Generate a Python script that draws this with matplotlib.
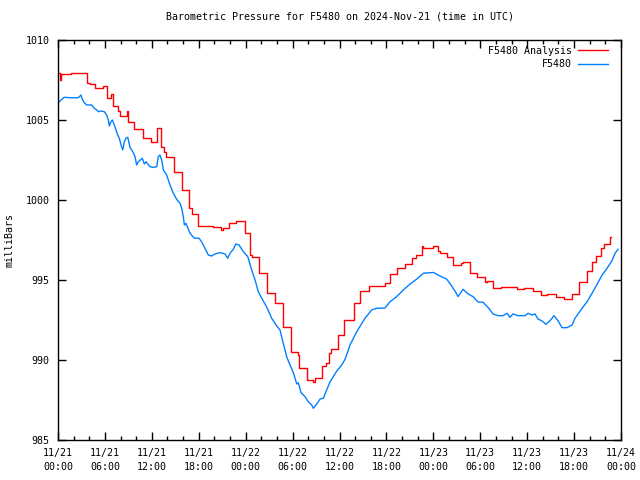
import matplotlib
matplotlib.use("Agg")
import matplotlib.pyplot as plt
from matplotlib.ticker import MultipleLocator
import numpy as np

# Hours since 2024-11-21 00:00 UTC, pressure in mb
analysis_hours = [0.0, 0.26, 0.38, 1.66, 3.70, 4.10, 4.73, 5.76, 6.27, 6.78, 7.03, 7.67, 7.93,
                  8.82, 8.95, 9.72, 10.87, 11.89, 12.66, 13.17, 13.56, 13.81, 14.84, 15.86,
                  16.75, 17.14, 17.90, 19.82, 20.85, 21.10, 21.87, 22.76, 23.92, 24.56, 24.81,
                  25.70, 26.73, 27.75, 28.78, 29.80, 30.69, 30.82, 31.85, 32.61, 32.87, 33.76,
                  34.28, 34.66, 34.91, 35.81, 36.58, 37.86, 38.62, 39.77, 41.82, 42.46, 43.36,
                  44.38, 45.27, 45.79, 46.55, 46.68, 47.96, 48.60, 48.85, 49.75, 50.52, 51.54,
                  51.80, 52.69, 53.59, 54.61, 54.87, 55.63, 56.66, 58.70, 59.60, 60.75, 61.77,
                  62.54, 63.69, 64.71, 65.74, 66.63, 67.66, 68.29, 68.81, 69.44, 69.83, 70.60,
                  70.72]
analysis_mb = [1007.92, 1007.50, 1007.88, 1007.92, 1007.33, 1007.25, 1007.02, 1007.13, 1006.39,
               1006.63, 1005.88, 1005.58, 1005.25, 1005.56, 1004.90, 1004.42, 1003.88, 1003.64,
               1004.48, 1003.31, 1003.02, 1002.71, 1001.73, 1000.63, 999.48, 999.13, 998.39,
               998.33, 998.13, 998.25, 998.56, 998.71, 997.94, 996.56, 996.46, 995.46, 994.17,
               993.54, 992.04, 990.48, 990.31, 989.48, 988.75, 988.61, 988.86, 989.63, 989.79,
               990.42, 990.67, 991.56, 992.50, 993.58, 994.31, 994.63, 994.83, 995.38, 995.73,
               996.00, 996.36, 996.56, 997.13, 996.98, 997.13, 996.83, 996.71, 996.42, 995.94,
               996.04, 996.11, 995.46, 995.17, 994.89, 994.94, 994.48, 994.54, 994.42, 994.48,
               994.33, 994.06, 994.13, 993.96, 993.79, 994.13, 994.86, 995.56, 996.14, 996.50,
               996.98, 997.23, 997.67, 997.67]

station_hours = [0.04, 0.38, 0.81, 1.53, 2.59, 2.94, 3.11, 3.36, 3.67, 4.31, 4.64, 4.95, 5.16,
                 5.50, 5.92, 6.23, 6.44, 6.56, 6.78, 6.95, 7.20, 7.42, 7.64, 7.84, 8.06, 8.28,
                 8.48, 8.70, 8.92, 9.21, 9.63, 9.85, 10.06, 10.27, 10.78, 11.04, 11.25, 11.77,
                 12.19, 12.62, 12.83, 13.04, 13.26, 13.47, 13.90, 14.32, 14.75, 15.18, 15.60,
                 15.82, 16.03, 16.16, 16.37, 16.88, 17.43, 18.03, 18.37, 18.80, 19.23, 19.66,
                 20.08, 20.72, 21.36, 21.70, 22.00, 22.42, 22.73, 23.15, 23.70, 24.27, 24.77,
                 25.20, 25.62, 26.05, 26.69, 27.33, 27.97, 28.39, 28.81, 29.24, 29.67, 30.09,
                 30.53, 30.73, 31.08, 31.59, 32.01, 32.45, 32.65, 33.08, 33.51, 33.93, 34.37,
                 34.79, 35.21, 35.65, 36.29, 36.71, 37.35, 38.20, 39.26, 40.12, 40.75, 41.82,
                 42.46, 43.31, 44.17, 45.03, 45.88, 46.73, 48.00, 48.85, 49.70, 50.26, 50.77,
                 51.16, 51.80, 52.44, 53.08, 53.71, 54.35, 54.99, 55.63, 56.27, 56.91, 57.42,
                 57.80, 58.19, 58.83, 59.73, 60.11, 60.62, 61.00, 61.39, 61.90, 62.41, 62.92,
                 63.43, 63.94, 64.45, 65.09, 65.74, 66.12, 67.02, 67.66, 68.30, 68.94, 69.58,
                 70.21, 70.85, 71.24, 71.62]
station_mb = [1006.08, 1006.25, 1006.42, 1006.39, 1006.39, 1006.56, 1006.29, 1006.08, 1005.94,
              1005.94, 1005.73, 1005.63, 1005.52, 1005.56, 1005.52, 1005.31, 1005.00, 1004.63,
              1004.90, 1005.00, 1004.69, 1004.38, 1004.06, 1003.86, 1003.44, 1003.13, 1003.64,
              1003.86, 1003.92, 1003.29, 1002.96, 1002.71, 1002.19, 1002.39, 1002.61, 1002.25,
              1002.39, 1002.08, 1002.04, 1002.08, 1002.71, 1002.81, 1002.50, 1001.88, 1001.56,
              1000.94, 1000.42, 1000.04, 999.79, 999.48, 998.96, 998.44, 998.54, 997.92, 997.61,
              997.61, 997.39, 996.98, 996.56, 996.50, 996.63, 996.71, 996.63, 996.36, 996.67,
              996.92, 997.25, 997.19, 996.77, 996.46, 995.63, 995.00, 994.27, 993.86, 993.31,
              992.61, 992.13, 991.88, 991.04, 990.21, 989.69, 989.22, 988.50, 988.58, 987.96,
              987.71, 987.39, 987.19, 986.98, 987.25, 987.56, 987.61, 988.13, 988.64, 988.96,
              989.31, 989.69, 990.04, 990.94, 991.77, 992.61, 993.13, 993.23, 993.25, 993.64,
              993.96, 994.38, 994.75, 995.06, 995.42, 995.47, 995.25, 995.06, 994.69, 994.31,
              993.96, 994.42, 994.13, 993.96, 993.63, 993.61, 993.29, 992.88, 992.77, 992.77,
              992.92, 992.67, 992.88, 992.77, 992.77, 992.92, 992.81, 992.88, 992.56, 992.44,
              992.23, 992.46, 992.77, 992.46, 992.02, 992.02, 992.19, 992.61, 993.23, 993.64,
              994.17, 994.73, 995.31, 995.73, 996.21, 996.67, 996.92]

x_tick_hours = [0, 6, 12, 18, 24, 30, 36, 42, 48, 54, 60, 66, 72]
x_tick_labels = ["11/21\n00:00", "11/21\n06:00", "11/21\n12:00", "11/21\n18:00",
                 "11/22\n00:00", "11/22\n06:00", "11/22\n12:00", "11/22\n18:00",
                 "11/23\n00:00", "11/23\n06:00", "11/23\n12:00", "11/23\n18:00",
                 "11/24\n00:00"]
y_ticks = [985, 990, 995, 1000, 1005, 1010]

plt.rcParams['font.family'] = ['DejaVu Sans Mono']
FS = 7.2

fig = plt.figure(figsize=(6.4, 4.8), dpi=100)
ax = fig.add_axes([58/640, 40/480, (621-58)/640, 400/480])

ax.plot(analysis_hours, analysis_mb, color='#ff0000', lw=1.0, drawstyle='steps-post',
        label='F5480 Analysis')
ax.plot(station_hours, station_mb, color='#0080ff', lw=1.0, label='F5480')

ax.set_xlim(0, 72)
ax.set_ylim(985, 1010)
ax.set_xticks(x_tick_hours)
ax.set_xticklabels(x_tick_labels, fontsize=FS, linespacing=1.5)
ax.xaxis.set_minor_locator(MultipleLocator(2))
ax.set_yticks(y_ticks)
ax.set_yticklabels([str(v) for v in y_ticks], fontsize=FS)

ax.tick_params(axis='both', which='major', direction='in', length=6, width=1,
               top=True, right=True, colors='black')
ax.tick_params(axis='x', which='major', pad=6)
ax.tick_params(axis='y', which='major', pad=6)
ax.tick_params(axis='x', which='minor', direction='in', length=3, width=1,
               top=True, bottom=True)
for s in ax.spines.values():
    s.set_linewidth(1.0)

ax.set_ylabel('milliBars', fontsize=FS)
ax.yaxis.set_label_coords(-43/563, 0.5)
ax.set_title('Barometric Pressure for F5480 on 2024-Nov-21 (time in UTC)', fontsize=FS, pad=15)

ax.legend(loc='upper right', frameon=False, markerfirst=False, fontsize=FS,
          handlelength=3.0, handletextpad=0.6, borderaxespad=0.2, labelspacing=0.35,
          bbox_to_anchor=(1.0 - 7/563, 1.0))

fig.savefig('out.png', dpi=100)
